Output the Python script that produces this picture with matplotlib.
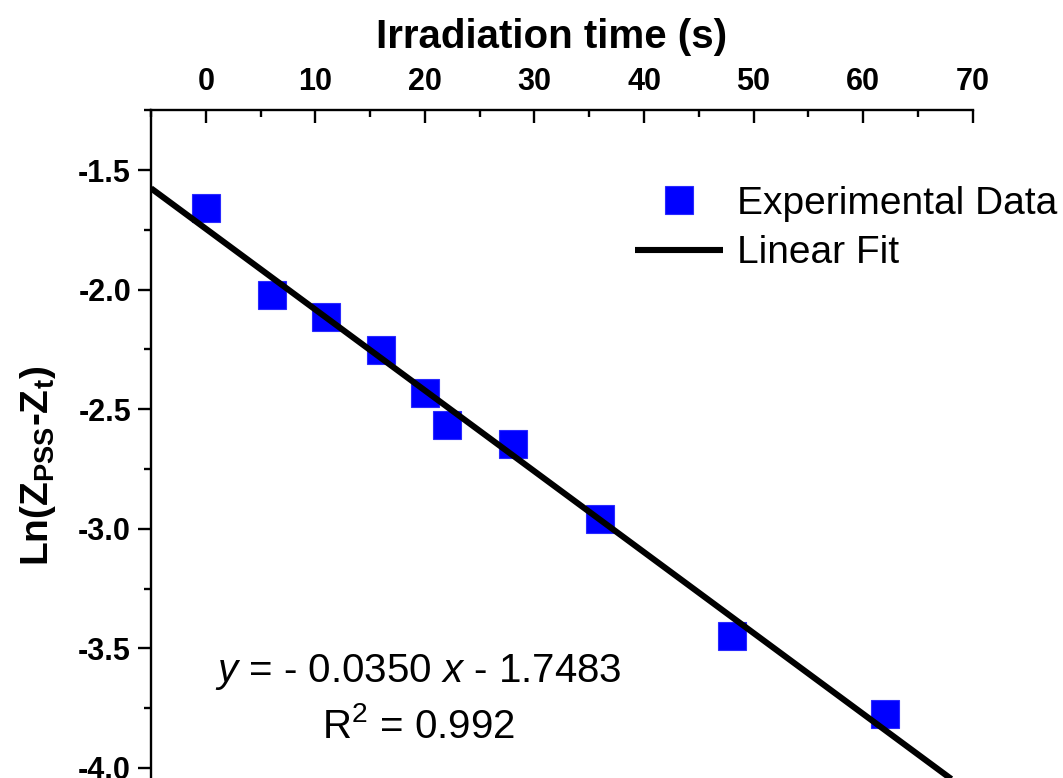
import numpy as np
import matplotlib
matplotlib.use("Agg")
import matplotlib.pyplot as plt
from matplotlib.ticker import MultipleLocator, FormatStrFormatter

plt.rcParams['font.family'] = ['Liberation Sans', 'DejaVu Sans']
plt.rcParams['mathtext.fontset'] = 'custom'
plt.rcParams['mathtext.rm'] = 'Liberation Sans'
plt.rcParams['mathtext.it'] = 'Liberation Sans:italic'
plt.rcParams['mathtext.bf'] = 'Liberation Sans:bold'

# ---- data ----
time_s = [0, 6, 11, 16, 20, 22, 28, 36, 48, 62]
ln_z = [-1.659, -2.023, -2.113, -2.253, -2.431, -2.567, -2.646, -2.958, -3.447, -3.776]
fit_x_range = [-5, 70]
eq_text = r"$\it{y}$ = - 0.0350 $\it{x}$ - 1.7483"
r2_text = r"R$^2$ = 0.992"
xlabel = "Irradiation time (s)"
ylabel = r"Ln(Z$_\mathbf{PSS}$-Z$_\mathbf{t}$)"
legend_labels = ["Experimental Data", "Linear Fit"]

W, H = 1063, 778
fig = plt.figure(figsize=(W / 100, H / 100), dpi=100)
ax = fig.add_axes([151 / W, 0, (972.7 - 151) / W, 1 - 110 / H])

slope, intercept = np.polyfit(time_s, ln_z, 1)
fx = np.array(fit_x_range, dtype=float)
fy = slope * fx + intercept

pts, = ax.plot(time_s, ln_z, linestyle='none', marker='s', markersize=20,
               color='#0000ff', markeredgecolor='#2a2aff', markeredgewidth=0.8,
               zorder=2, label=legend_labels[0])
fit_line, = ax.plot(fx, fy, color='black', linewidth=4.4, zorder=3,
                    solid_capstyle='butt', label=legend_labels[1])

ax.set_xlim(-5, 70)
ax.set_ylim(-4.042, -1.249)

for s in ['bottom', 'right']:
    ax.spines[s].set_visible(False)
for s in ['top', 'left']:
    ax.spines[s].set_linewidth(1.7)

ax.xaxis.tick_top()
ax.xaxis.set_major_locator(MultipleLocator(10))
ax.xaxis.set_minor_locator(MultipleLocator(5))
ax.yaxis.set_major_locator(MultipleLocator(0.5))
ax.yaxis.set_minor_locator(MultipleLocator(0.25))
ax.yaxis.set_major_formatter(FormatStrFormatter('%.1f'))

ax.tick_params(axis='x', which='major', direction='in', length=9.4, width=1.7,
               pad=9, labelsize=22)
ax.tick_params(axis='x', which='minor', direction='in', length=5, width=1.7)
ax.tick_params(axis='y', which='major', direction='out', length=9.4, width=1.7,
               pad=5, labelsize=22)
ax.tick_params(axis='y', which='minor', direction='out', length=5, width=1.7)
for lab in ax.get_xticklabels() + ax.get_yticklabels():
    lab.set_fontweight('bold')

fig.text(552 / W, 1 - 48 / H, xlabel, ha='center', va='baseline',
         fontsize=29, fontweight='bold')
fig.text(38 / W, 1 - 466 / H, ylabel, ha='center', va='center', rotation=90,
         fontsize=28, fontweight='bold')

fig.text(418 / W, 1 - 682 / H, eq_text, ha='center', va='baseline', fontsize=29)
fig.text(418 / W, 1 - 738 / H, r2_text, ha='center', va='baseline', fontsize=29)

leg = ax.legend(handles=[pts, fit_line], loc='upper left',
                bbox_to_anchor=(635 / W, 1 - 186 / H), bbox_transform=fig.transFigure,
                frameon=False, borderpad=0, borderaxespad=0, handlelength=2.27,
                handletextpad=0.35, labelspacing=0.34, numpoints=1, fontsize=28)

fig.savefig('out.png', dpi=100)
